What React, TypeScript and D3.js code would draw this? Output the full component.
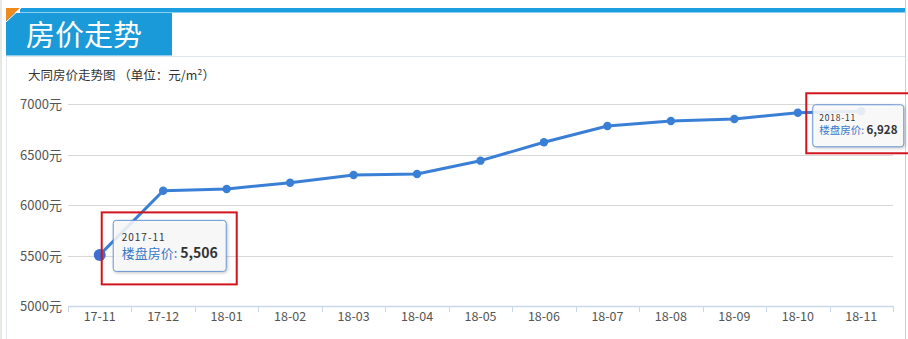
import React from "react";
import * as d3 from "d3";

const categories = ["17-11","17-12","18-01","18-02","18-03","18-04","18-05","18-06","18-07","18-08","18-09","18-10","18-11"];
const prices = [5506, 6141, 6158, 6221, 6297, 6307, 6439, 6621, 6782, 6832, 6851, 6914, 6928];
const yTicks = [5000, 5500, 6000, 6500, 7000];
const tooltipMonths = ["2017-11", "2018-11"];

const W = 908, H = 339;
const FONT = "'Noto Sans CJK SC', 'Noto Sans', sans-serif";

export default function App() {
  const x = d3.scaleBand<string>().domain(categories).range([68, 893]).padding(0);
  const y = d3.scaleLinear().domain([5000, 7000]).range([306, 104]);
  const cx = (c: string) => (x(c) as number) + x.bandwidth() / 2;
  const line = d3.line<number>().x((_, i) => cx(categories[i])).y(d => y(d));
  const fmt = d3.format(",");
  const lineColor = "#3a7fd6";

  const p0 = { x: cx(categories[0]), y: y(prices[0]) };
  const pl = { x: cx(categories[12]), y: y(prices[12]) };

  return (
    <svg width={W} height={H} style={{ position: "absolute", left: 0, top: 0, fontFamily: FONT }}>
      <rect x={0} y={0} width={W} height={H} fill="#fff" />
      {/* frame lines */}
      <line x1={1} x2={1} y1={0} y2={H} stroke="#d0d0d0" />
      <line x1={905.5} x2={905.5} y1={0} y2={H} stroke="#d0d0d0" />
      <line x1={6.5} x2={6.5} y1={56} y2={H} stroke="#e2e8ee" />
      <line x1={6} x2={905} y1={56.5} y2={56.5} stroke="#dde6ee" />
      {/* top blue strip */}
      <rect x={20} y={8} width={885} height={4.5} fill="#1a9ee0" />
      {/* title box */}
      <rect x={6} y={13} width={166} height={42.5} fill="#1a9ad9" />
      <polygon points="6,8 20,8 6,21" fill="#f08a1c" />
      <line x1={21} y1={8} x2={6} y2={22} stroke="#fff" strokeWidth={1} />
      <text x={26} y={46} fill="#fff" fontSize={29} fontFamily={FONT}>房价走势</text>
      {/* subtitle */}
      <text x={28} y={80} fill="#333" fontSize={12.5}>大同房价走势图 （单位：元/m²）</text>

      {/* grid */}
      {yTicks.filter(t => t !== 5000).map(t => (
        <line key={t} x1={68} x2={893} y1={Math.round(y(t)) + 0.5} y2={Math.round(y(t)) + 0.5} stroke="#d8d8d8" />
      ))}
      {yTicks.map(t => (
        <text key={"l" + t} x={62} y={y(t) + 5} textAnchor="end" fill="#555" fontSize={13}>{t}元</text>
      ))}
      {/* x axis */}
      <line x1={68} x2={893} y1={306.5} y2={306.5} stroke="#ccd6eb" strokeWidth={1.5} />
      {categories.map(c => (
        <line key={"t" + c} x1={Math.round(x(c) as number) + 0.5} x2={Math.round(x(c) as number) + 0.5} y1={306} y2={312} stroke="#ccd6eb" />
      ))}
      <line x1={893.5} x2={893.5} y1={306} y2={312} stroke="#ccd6eb" />
      {categories.map(c => (
        <text key={"x" + c} x={cx(c)} y={321} textAnchor="middle" fill="#555" fontSize={12.5}>{c}</text>
      ))}

      {/* series */}
      <path d={line(prices) || ""} fill="none" stroke={lineColor} strokeWidth={3} strokeLinejoin="round" />
      {prices.map((v, i) => (
        <circle key={i} cx={cx(categories[i])} cy={y(v)} r={i === 0 ? 6 : 4.2} fill={i === 0 ? "#3d6fd3" : lineColor} />
      ))}

      {/* tooltip 1 */}
      <g>
        <rect x={p0.x + 13.5} y={p0.y - 34.5} width={113} height={51} rx={3} fill="#fff" fillOpacity={0.85} stroke="#6a97d4" strokeWidth={1} style={{ filter: "drop-shadow(1px 1px 1.5px rgba(0,0,0,0.25))" }} />
        <text x={p0.x + 22} y={p0.y - 13.5} fill="#333" fontSize={10} letterSpacing={1}>{tooltipMonths[0]}</text>
        <text x={p0.x + 22} y={p0.y + 3} fontSize={13}>
          <tspan fill="#3a78c8">楼盘房价: </tspan>
          <tspan fill="#333" fontWeight="bold" fontSize={14}>{fmt(prices[0])}</tspan>
        </text>
        <rect x={p0.x + 2} y={p0.y - 42.5} width={135} height={72} fill="none" stroke="#d2141c" strokeWidth={2} />
      </g>

      {/* tooltip 2 */}
      <g>
        <rect x={pl.x - 48.5} y={pl.y - 6.5} width={91} height={42} rx={3} fill="#fff" fillOpacity={0.88} stroke="#6a97d4" strokeWidth={1} style={{ filter: "drop-shadow(1px 1px 1.5px rgba(0,0,0,0.25))" }} />
        <text x={pl.x - 42} y={pl.y + 10} fill="#333" fontSize={8.5} letterSpacing={0.8}>{tooltipMonths[1]}</text>
        <text x={pl.x - 42} y={pl.y + 23} fontSize={10.5}>
          <tspan fill="#3a78c8">楼盘房价: </tspan>
          <tspan fill="#333" fontWeight="bold" fontSize={11.5}>{fmt(prices[12])}</tspan>
        </text>
        <rect x={pl.x - 55} y={pl.y - 18} width={110} height={60} fill="none" stroke="#d2141c" strokeWidth={2} />
      </g>
    </svg>
  );
}
